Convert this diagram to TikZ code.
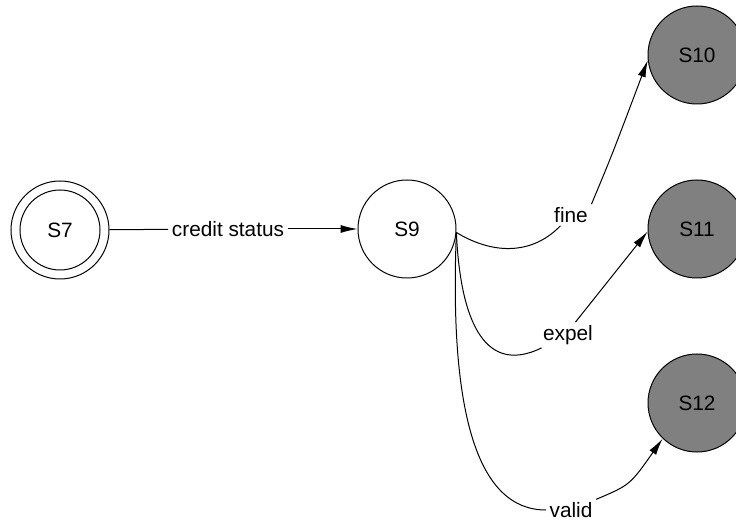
\documentclass[tikz,border=0pt]{standalone}
\usepackage{fontspec}
\setmainfont{Liberation Sans}
\usetikzlibrary{arrows.meta}
\definecolor{stategray}{RGB}{128,128,128}
\begin{document}
\begin{tikzpicture}[x=1pt,y=1pt,
  every node/.style={font=\fontsize{20.8}{25}\selectfont},
  state/.style={circle,draw,line width=1pt,minimum size=98pt,inner sep=0pt},
  final/.style={state,fill=stategray},
  lbl/.style={inner xsep=3.5pt,inner ysep=3pt},
  edge/.style={line width=1pt},
  arr/.style={edge,-{Latex[length=17pt,width=8pt]}}]
\useasboundingbox (0,0) rectangle (736,525);
% states
\node[state] (S7) at (60,295) {S7};
\draw[line width=1pt] (S7.center) circle (40pt);
\node[state] (S9) at (407,296) {S9};
\node[final] (S10) at (697,470) {S10};
\node[final] (S11) at (697,296) {S11};
\node[final] (S12) at (697,122) {S12};
% labels
\node[lbl] (cs) at (228,296) {credit status};
\node[lbl] (fine) at (571,310) {fine};
\node[lbl] (expel) at (568,190) {expel};
\node[lbl] (valid) at (571,15) {valid};
% edges
\draw[edge] (S7) -- (cs);
\draw[arr] (cs) -- (S9);
\draw[edge] (S9.-4) .. controls (490,272) and (530,268) .. (fine);
\draw[arr] (fine.north east) .. controls (612,370) .. (S10.186);
\draw[edge] (S9.-4) .. controls (460,210) and (482,148) .. (expel);
\draw[arr] (expel.60) -- (S11.183);
\draw[edge] (S9.-4) .. controls (449,110) and (478,15) .. (valid);
\draw[arr] (valid) .. controls (630,40) .. (S12.226);
\end{tikzpicture}
\end{document}
